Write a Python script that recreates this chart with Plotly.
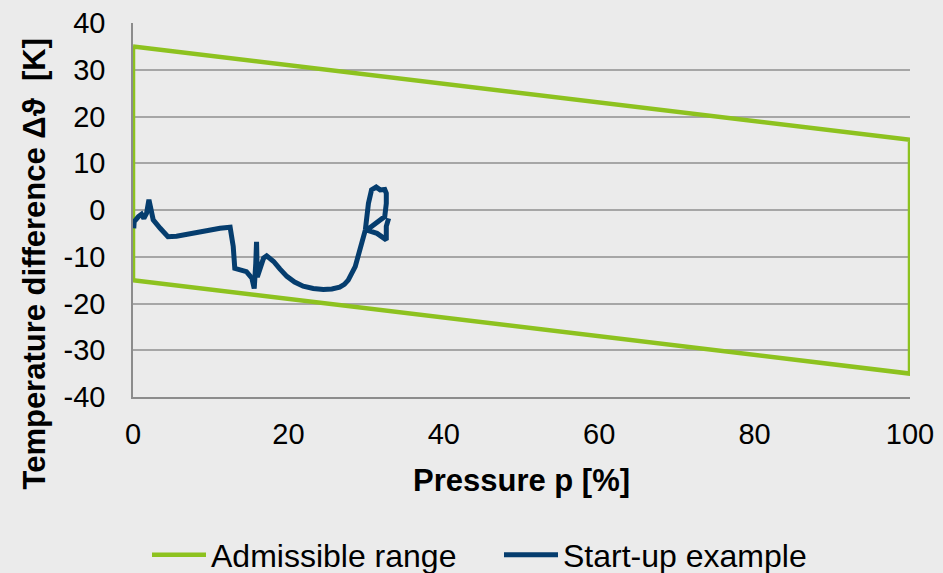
import plotly.graph_objects as go

# Admissible operating envelope (closed polygon)
range_p = [0, 100, 100, 0, 0]
range_dT = [35, 15, -35, -15, 35]

# Measured start-up trajectory
startup_p = [0.1, 0.15, 0.7, 1.1, 1.4, 1.75, 2.05, 2.3, 2.6, 3.5, 4.5, 5.6, 7.3, 9.5,
             11.2, 12.5, 12.9, 13.1, 13.8, 14.6, 15.3, 15.6, 15.8, 15.9, 16.0, 16.3,
             16.8, 17.2, 18.1, 18.9, 19.8, 20.8, 21.9, 23.2, 24.5, 25.6, 26.6, 27.2,
             27.7, 28.6, 29.2, 29.9, 30.3, 30.7, 31.3, 31.8, 32.4, 32.6, 32.6, 32.4,
             30.1, 31.4, 32.6, 32.6, 32.9]
startup_dT = [-3.9, -2.5, -1.4, -0.9, -1.8, -0.7, 2.2, 0.4, -2.1, -3.9, -5.7, -5.6, -5.0, -4.3,
              -3.9, -3.7, -7.8, -12.5, -12.8, -13.2, -14.6, -16.8, -11.4, -6.8, -14.3, -12.8,
              -10.3, -9.8, -11.0, -12.6, -14.2, -15.4, -16.3, -16.8, -17.0, -16.9, -16.5, -15.9,
              -15.0, -12.1, -8.6, -4.3, 1.4, 4.3, 4.9, 4.3, 4.4, 3.6, 1.4, -1.4,
              -4.3, -5.0, -6.4, -3.5, -1.8]

y_tickvals = [-40, -30, -20, -10, 0, 10, 20, 30, 40]
y_ticktext = ["-40", "-30", "-20", "-10", "0", "10", "20", "30", "40"]
x_tickvals = [0, 20, 40, 60, 80, 100]
x_ticktext = ["0", "20", "40", "60", "80", "100"]

GREEN = "#8DC21F"
NAVY = "#053D6E"
BG = "#EBEBEB"
FONT = "Liberation Sans, Arial, sans-serif"

fig = go.Figure()
fig.add_trace(go.Scatter(x=range_p, y=range_dT, mode="lines", name="Admissible range",
                         line=dict(color=GREEN, width=4.5)))
fig.add_trace(go.Scatter(x=startup_p, y=startup_dT, mode="lines", name="Start-up example",
                         line=dict(color=NAVY, width=5)))

fig.update_layout(
    width=943, height=573,
    margin=dict(l=133, r=33, t=23, b=176, autoexpand=False),
    paper_bgcolor=BG, plot_bgcolor=BG,
    font=dict(family=FONT, color="#000000", size=29),
    showlegend=True,
    legend=dict(orientation="h", x=(147 - 133) / 777, xanchor="left", y=-0.4225, yanchor="middle",
                font=dict(size=32), bgcolor="rgba(0,0,0,0)", entrywidth=283,
                entrywidthmode="pixels", itemwidth=54, tracegroupgap=0),
    annotations=[
        dict(text="<b>Pressure p [%]</b>", xref="paper", yref="paper",
             x=0.5, y=(397 - 480) / 374, xanchor="center", yanchor="middle",
             showarrow=False, font=dict(size=31)),
        dict(text="<b>Temperature difference \u0394\u03d1  [K]</b>", xref="paper", yref="paper",
             x=(33.5 - 133) / 777, y=(397 - 264) / 374, xanchor="center", yanchor="middle",
             textangle=-90, showarrow=False, font=dict(size=31)),
    ],
)

fig.update_xaxes(range=[0, 100], tickvals=x_tickvals, ticktext=x_ticktext,
                 showgrid=False, zeroline=False, showline=True, linecolor="#8C8C8C",
                 linewidth=1.5, ticks="", ticklabelstandoff=10, tickfont=dict(size=29))
fig.update_yaxes(range=[-40, 40], tickvals=y_tickvals, ticktext=y_ticktext,
                 showgrid=True, gridcolor="#A6A6A6", gridwidth=1.5, zeroline=False,
                 showline=True, linecolor="#8C8C8C", linewidth=1.5, ticks="",
                 ticklabelstandoff=20, tickfont=dict(size=29))

fig.write_html("out.html")
